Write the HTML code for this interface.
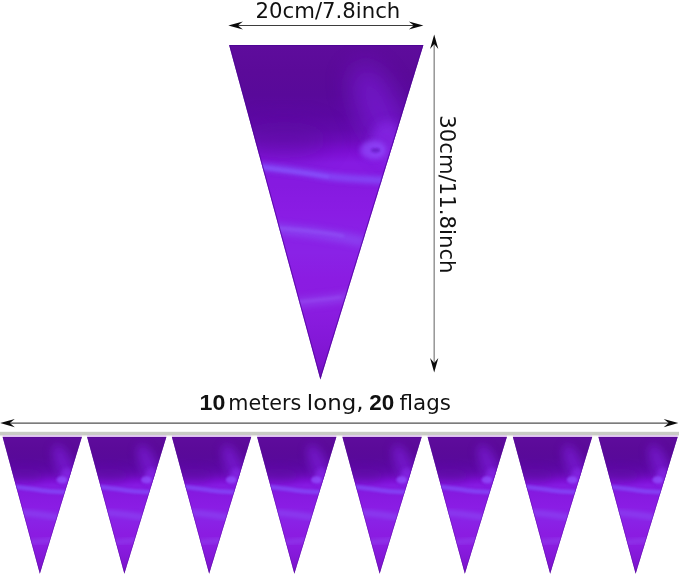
<!DOCTYPE html>
<html lang="en">
<head>
<meta charset="utf-8">
<title>Purple pennant banner – size chart</title>
<style>
  html,body{margin:0;padding:0;background:#fff;}
  body{width:679px;height:576px;overflow:hidden;font-family:"DejaVu Sans","Liberation Sans",sans-serif;}
  svg{display:block;}
  .t{font-family:"DejaVu Sans","Liberation Sans",sans-serif;font-size:21px;fill:#111;}
  .b{font-family:"Liberation Sans","DejaVu Sans",sans-serif;font-weight:bold;font-size:21.6px;}
</style>
</head>
<body>
<svg width="679" height="576" viewBox="0 0 679 576">
  <defs>
    <linearGradient id="pg" x1="0" y1="0" x2="0" y2="1">
      <stop offset="0" stop-color="#5e0c9c"/>
      <stop offset="0.08" stop-color="#5b0a99"/>
      <stop offset="0.15" stop-color="#59099a"/>
      <stop offset="0.21" stop-color="#5c08a2"/>
      <stop offset="0.254" stop-color="#620aac"/>
      <stop offset="0.284" stop-color="#6c0cba"/>
      <stop offset="0.314" stop-color="#7a0ed0"/>
      <stop offset="0.33" stop-color="#8012d8"/>
      <stop offset="0.352" stop-color="#861ae2"/>
      <stop offset="0.42" stop-color="#861ae0"/>
      <stop offset="0.50" stop-color="#8a1ce4"/>
      <stop offset="0.56" stop-color="#8a20e6"/>
      <stop offset="0.62" stop-color="#8a22e6"/>
      <stop offset="0.70" stop-color="#8b1ce2"/>
      <stop offset="0.80" stop-color="#8a1ce0"/>
      <stop offset="0.88" stop-color="#8418d8"/>
      <stop offset="0.95" stop-color="#7e14ce"/>
      <stop offset="0.985" stop-color="#6e10ba"/>
      <stop offset="1" stop-color="#540a98"/>
    </linearGradient>
    <filter id="bl" x="-60%" y="-60%" width="220%" height="220%"><feGaussianBlur stdDeviation="5"/></filter>
    <filter id="bl2" x="-60%" y="-60%" width="220%" height="220%"><feGaussianBlur stdDeviation="12"/></filter>
    <filter id="bs" filterUnits="userSpaceOnUse" x="-20" y="-20" width="240" height="380"><feGaussianBlur stdDeviation="1.8"/></filter>
    <filter id="b1" filterUnits="userSpaceOnUse" x="-20" y="-20" width="240" height="380"><feGaussianBlur stdDeviation="1"/></filter>
    <filter id="b25" filterUnits="userSpaceOnUse" x="-20" y="-20" width="240" height="380"><feGaussianBlur stdDeviation="2.5"/></filter>
    <filter id="b3" filterUnits="userSpaceOnUse" x="-20" y="-20" width="240" height="380"><feGaussianBlur stdDeviation="3.2"/></filter>
    <filter id="b06" filterUnits="userSpaceOnUse" x="-20" y="-20" width="240" height="380"><feGaussianBlur stdDeviation="0.6"/></filter>
    <clipPath id="cp"><polygon points="0,0 194.3,0 91.3,334.6"/></clipPath>
    <g id="flag">
      <polygon points="0,0 194.3,0 91.3,334.6" fill="url(#pg)"/>
      <g clip-path="url(#cp)">
        <!-- diagonal lighter zone, upper right -->
        <ellipse cx="150" cy="66" rx="20" ry="50" fill="#7c1ad8" opacity="0.7" filter="url(#bl2)" transform="rotate(-24 150 66)"/>
        <ellipse cx="158" cy="98" rx="16" ry="22" fill="#8a2cec" opacity="0.6" filter="url(#bl)"/>
        <!-- darker left area -->
        <ellipse cx="55" cy="95" rx="45" ry="18" fill="#5a0a9c" opacity="0.45" filter="url(#bl2)"/>
        <!-- highlight ring -->
        <ellipse cx="144" cy="105" rx="13" ry="9.5" fill="#9250ff" opacity="0.68" filter="url(#b25)"/>
        <ellipse cx="146.5" cy="105.3" rx="4.6" ry="2.4" fill="#6614c4" opacity="0.75" filter="url(#b1)"/>
        <!-- wavy light streaks -->
        <path d="M25,121 C50,124 70,126 91,130 S140,135 170,136" fill="none" stroke="#8450fc" stroke-width="7" opacity="0.8" filter="url(#b25)"/>
        <path d="M30,122 C50,125 70,127 100,132" fill="none" stroke="#8a5cff" stroke-width="3" opacity="0.55" filter="url(#bs)"/>
        <path d="M40,183 C70,186 95,188 135,197" fill="none" stroke="#8c54f8" stroke-width="11" opacity="0.55" filter="url(#b3)"/>
        <path d="M48,183 C70,185 90,186 115,191" fill="none" stroke="#9462fa" stroke-width="3" opacity="0.45" filter="url(#bs)"/>
        <path d="M60,259 C85,256 100,255 125,251" fill="none" stroke="#9450f4" stroke-width="10" opacity="0.5" filter="url(#b3)"/>
        <path d="M70,257 C85,255 100,254 112,252" fill="none" stroke="#9c60f6" stroke-width="2.5" opacity="0.4" filter="url(#bs)"/>
        <!-- dark edges -->
        <polygon points="0,0 194.3,0 91.3,334.6" fill="none" stroke="#4a0894" stroke-opacity="0.7" stroke-width="2" filter="url(#b06)"/>
      </g>
    </g>
    <g id="flagS">
      <polygon points="0,0 194.3,0 91.3,334.6" fill="url(#pg)"/>
      <g clip-path="url(#cp)">
        <ellipse cx="150" cy="66" rx="20" ry="50" fill="#7c1ad8" opacity="0.7" filter="url(#bl2)" transform="rotate(-24 150 66)"/>
        <ellipse cx="158" cy="98" rx="16" ry="22" fill="#8a2cec" opacity="0.6" filter="url(#bl)"/>
        <ellipse cx="55" cy="95" rx="45" ry="18" fill="#5a0a9c" opacity="0.45" filter="url(#bl2)"/>
        <ellipse cx="145" cy="105" rx="13" ry="9" fill="#9250ff" opacity="0.75" filter="url(#b3)"/>
        <path d="M20,121 C50,124 70,126 91,130 S140,135 175,136" fill="none" stroke="#8450fc" stroke-width="11" opacity="0.7" filter="url(#b3)"/>
        <path d="M36,184 C70,187 95,189 140,197" fill="none" stroke="#8c54f8" stroke-width="15" opacity="0.5" filter="url(#bl)"/>
        <path d="M56,259 C85,256 100,255 128,251" fill="none" stroke="#9450f4" stroke-width="14" opacity="0.45" filter="url(#bl)"/>
        <polygon points="0,0 194.3,0 91.3,334.6" fill="none" stroke="#4a0894" stroke-opacity="0.55" stroke-width="3" filter="url(#b1)"/>
      </g>
    </g>
    <path id="ah" d="M-0.8,0 L13.8,-4.1 L8.8,0 L13.8,4.1 Z" fill="#0a0a0a"/>
  </defs>

  <!-- big flag -->
  <use href="#flag" x="229.1" y="45"/>

  <!-- top dimension arrow -->
  <line x1="236" y1="25.5" x2="415" y2="25.5" stroke="#333" stroke-width="0.95"/>
  <use href="#ah" transform="translate(229.1,25.5)"/>
  <use href="#ah" transform="translate(422.6,25.5) rotate(180)"/>
  <text class="t" x="255.6" y="17.6" textLength="144.7" lengthAdjust="spacingAndGlyphs">20cm/7.8inch</text>

  <!-- vertical dimension arrow -->
  <line x1="434.2" y1="43" x2="434.2" y2="364" stroke="#959595" stroke-width="1.5"/>
  <use href="#ah" transform="translate(434.2,35.2) rotate(90)"/>
  <use href="#ah" transform="translate(434.2,371.8) rotate(-90)"/>
  <text class="t" transform="translate(439.9,115.35) rotate(90) scale(1,1.03)" textLength="158.2" lengthAdjust="spacingAndGlyphs">30cm/11.8inch</text>

  <!-- bottom caption -->
  <text class="t b" x="199.6" y="409.9" textLength="25.8" lengthAdjust="spacingAndGlyphs">10</text>
  <text class="t" x="228.3" y="409.9" textLength="73" lengthAdjust="spacingAndGlyphs">meters</text>
  <text class="t" x="306.85" y="409.9" textLength="56.7" lengthAdjust="spacingAndGlyphs">long,</text>
  <text class="t b" x="369.2" y="409.9" textLength="25.0" lengthAdjust="spacingAndGlyphs">20</text>
  <text class="t" x="399.5" y="409.9" textLength="51.4" lengthAdjust="spacingAndGlyphs">flags</text>

  <!-- bottom arrow -->
  <line x1="8" y1="423.1" x2="671" y2="423.1" stroke="#505050" stroke-width="1.25"/>
  <use href="#ah" transform="translate(1,423.1)"/>
  <use href="#ah" transform="translate(677.5,423.1) rotate(180)"/>

  <!-- string -->
  <rect x="0" y="431.8" width="679" height="3.7" fill="#c9cbc5"/>
  <rect x="0" y="435.3" width="679" height="0.9" fill="#e4e4e0"/>

  <!-- small flags -->
  <rect x="2.6" y="435.2" width="79.3" height="2" fill="#dfc2f0"/>
  <rect x="87.1" y="435.2" width="79.3" height="2" fill="#dfc2f0"/>
  <rect x="171.9" y="435.2" width="79.3" height="2" fill="#dfc2f0"/>
  <rect x="257.1" y="435.2" width="79.3" height="2" fill="#dfc2f0"/>
  <rect x="342.4" y="435.2" width="79.3" height="2" fill="#dfc2f0"/>
  <rect x="427.6" y="435.2" width="79.3" height="2" fill="#dfc2f0"/>
  <rect x="512.9" y="435.2" width="79.3" height="2" fill="#dfc2f0"/>
  <rect x="598.4" y="435.2" width="79.3" height="2" fill="#dfc2f0"/>
  <use href="#flagS" transform="translate(2.6,436.9) scale(0.408,0.409)"/>
  <use href="#flagS" transform="translate(87.1,436.9) scale(0.408,0.409)"/>
  <use href="#flagS" transform="translate(171.9,436.9) scale(0.408,0.409)"/>
  <use href="#flagS" transform="translate(257.1,436.9) scale(0.408,0.409)"/>
  <use href="#flagS" transform="translate(342.4,436.9) scale(0.408,0.409)"/>
  <use href="#flagS" transform="translate(427.6,436.9) scale(0.408,0.409)"/>
  <use href="#flagS" transform="translate(512.9,436.9) scale(0.408,0.409)"/>
  <use href="#flagS" transform="translate(598.4,436.9) scale(0.408,0.409)"/>
</svg>
</body>
</html>
